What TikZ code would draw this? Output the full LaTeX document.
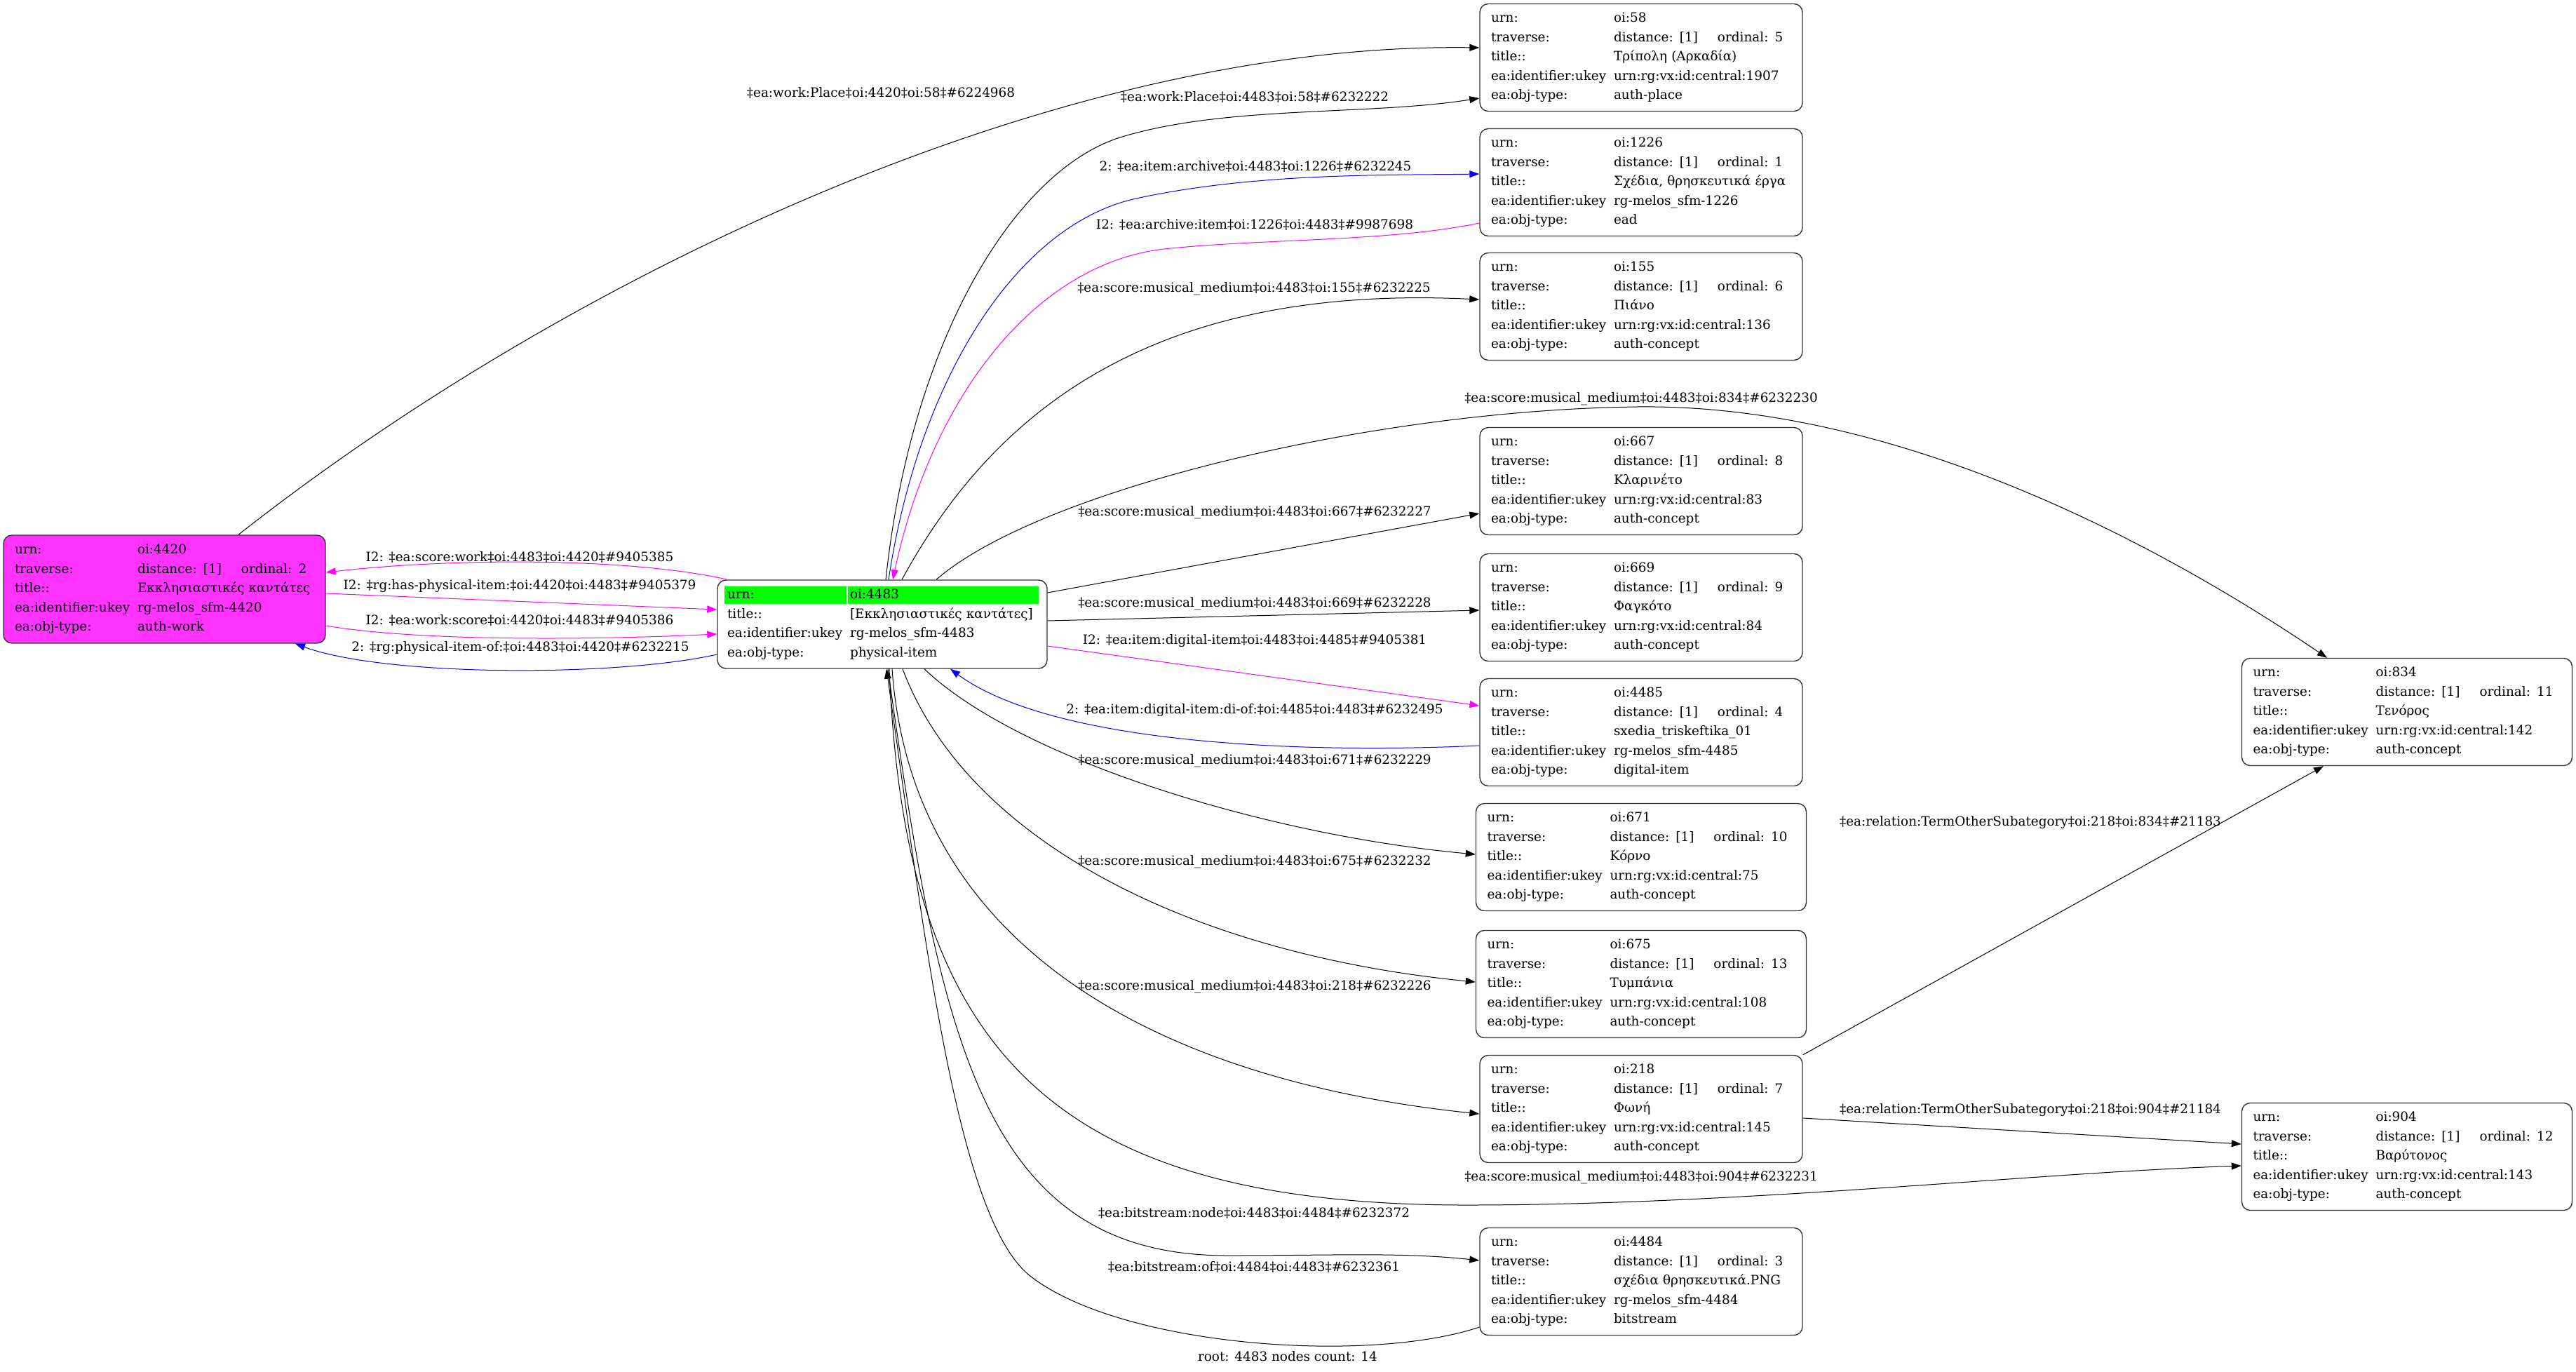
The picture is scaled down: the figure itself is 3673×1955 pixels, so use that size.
\documentclass[tikz,border=0pt]{standalone}
\usepackage{fontspec}
\setmainfont{DejaVu Serif}
\usetikzlibrary{arrows.meta}
\definecolor{mymagenta}{RGB}{255,51,255}
\definecolor{mygreen}{RGB}{0,255,0}
\definecolor{linkmagenta}{RGB}{255,0,255}
\definecolor{linkblue}{RGB}{0,0,255}
\newcommand{\boxfont}{\fontsize{9.2pt}{13.75pt}\selectfont}
\newcommand{\rw}[2]{\makebox[87.5pt][l]{#1}\mbox{#2}}
\newcommand{\trv}[1]{\rw{traverse:}{\makebox[74pt][l]{distance: [1]}ordinal: #1}}
\tikzset{
  rec/.style={draw=black!80, line width=0.7pt, rounded corners=6pt, inner xsep=8pt, inner ysep=0pt, text width=214pt, minimum height=76.5pt, align=left, font=\boxfont},
  recw/.style={rec, text width=219.5pt},
  lbl/.style={font=\boxfont, inner sep=0pt},
  conn/.style={line width=0.5pt, -{Triangle[length=7pt,width=5pt]}}
}

\begin{document}
\begin{tikzpicture}[x=0.5pt,y=-0.5pt]
\useasboundingbox (0,0) rectangle (3673,1955);

\fill[mygreen] (1033,836) rectangle (1207,861);
\fill[mygreen] (1209,836) rectangle (1481,861);

\node[rec, fill=mymagenta, text width=213.5pt, minimum height=77pt] (n4420) at (234.5,840) {\rw{urn:}{oi:4420}\\\trv{2}\\\rw{title::}{Εκκλησιαστικές καντάτες}\\\rw{ea:identifier:ukey}{rg-melos\_sfm-4420}\\\rw{ea:obj-type:}{auth-work}};
\node[rec, text width=221pt, inner xsep=7pt, minimum height=63pt] (n4483) at (1258,890) {\rw{urn:}{oi:4483}\\\rw{title::}{[Εκκλησιαστικές καντάτες]}\\\rw{ea:identifier:ukey}{rg-melos\_sfm-4483}\\\rw{ea:obj-type:}{physical-item}};
\node[rec] (n58) at (2340,82) {\rw{urn:}{oi:58}\\\trv{5}\\\rw{title::}{Τρίπολη (Αρκαδία)}\\\rw{ea:identifier:ukey}{urn:rg:vx:id:central:1907}\\\rw{ea:obj-type:}{auth-place}};
\node[rec] (n1226) at (2340,260) {\rw{urn:}{oi:1226}\\\trv{1}\\\rw{title::}{Σχέδια, θρησκευτικά έργα}\\\rw{ea:identifier:ukey}{rg-melos\_sfm-1226}\\\rw{ea:obj-type:}{ead}};
\node[rec] (n155) at (2340,437) {\rw{urn:}{oi:155}\\\trv{6}\\\rw{title::}{Πιάνο}\\\rw{ea:identifier:ukey}{urn:rg:vx:id:central:136}\\\rw{ea:obj-type:}{auth-concept}};
\node[rec] (n667) at (2340,686) {\rw{urn:}{oi:667}\\\trv{8}\\\rw{title::}{Κλαρινέτο}\\\rw{ea:identifier:ukey}{urn:rg:vx:id:central:83}\\\rw{ea:obj-type:}{auth-concept}};
\node[rec] (n669) at (2340,866) {\rw{urn:}{oi:669}\\\trv{9}\\\rw{title::}{Φαγκότο}\\\rw{ea:identifier:ukey}{urn:rg:vx:id:central:84}\\\rw{ea:obj-type:}{auth-concept}};
\node[rec] (n4485) at (2340,1044) {\rw{urn:}{oi:4485}\\\trv{4}\\\rw{title::}{sxedia\_triskeftika\_01}\\\rw{ea:identifier:ukey}{rg-melos\_sfm-4485}\\\rw{ea:obj-type:}{digital-item}};
\node[recw] (n671) at (2340,1222) {\rw{urn:}{oi:671}\\\trv{10}\\\rw{title::}{Κόρνο}\\\rw{ea:identifier:ukey}{urn:rg:vx:id:central:75}\\\rw{ea:obj-type:}{auth-concept}};
\node[recw] (n675) at (2340,1403) {\rw{urn:}{oi:675}\\\trv{13}\\\rw{title::}{Τυμπάνια}\\\rw{ea:identifier:ukey}{urn:rg:vx:id:central:108}\\\rw{ea:obj-type:}{auth-concept}};
\node[rec] (n218) at (2340,1581) {\rw{urn:}{oi:218}\\\trv{7}\\\rw{title::}{Φωνή}\\\rw{ea:identifier:ukey}{urn:rg:vx:id:central:145}\\\rw{ea:obj-type:}{auth-concept}};
\node[rec] (n4484) at (2340,1827) {\rw{urn:}{oi:4484}\\\trv{3}\\\rw{title::}{σχέδια θρησκευτικά.PNG}\\\rw{ea:identifier:ukey}{rg-melos\_sfm-4484}\\\rw{ea:obj-type:}{bitstream}};
\node[recw] (n834) at (3432,1015) {\rw{urn:}{oi:834}\\\trv{11}\\\rw{title::}{Τενόρος}\\\rw{ea:identifier:ukey}{urn:rg:vx:id:central:142}\\\rw{ea:obj-type:}{auth-concept}};
\node[recw] (n904) at (3432,1649) {\rw{urn:}{oi:904}\\\trv{12}\\\rw{title::}{Βαρύτονος}\\\rw{ea:identifier:ukey}{urn:rg:vx:id:central:143}\\\rw{ea:obj-type:}{auth-concept}};

\draw[conn] ([xshift=52.75pt]n4420.north) .. controls (800,400) and (1500,60) .. ([yshift=7pt]n58.west);
\draw[conn] ([xshift=2.5pt]n4483.north) .. controls (1300,480) and (1450,240) .. (1600,195) .. controls (1750,150) and (1950,165) .. ([yshift=-29pt]n58.west);
\draw[conn, linkblue] ([xshift=4.5pt]n4483.north) .. controls (1310,540) and (1450,320) .. (1620,283) .. controls (1790,246) and (1980,250) .. ([yshift=6pt]n1226.west);
\draw[conn, linkmagenta] ([yshift=-29pt]n1226.west) .. controls (1980,345) and (1800,340) .. (1660,355) .. controls (1480,375) and (1330,560) .. ([xshift=7.5pt]n4483.north);
\draw[conn] ([xshift=14pt]n4483.north) .. controls (1420,580) and (1650,405) .. ([yshift=5pt]n155.west);
\draw[conn] ([xshift=38.5pt]n4483.north) .. controls (1480,700) and (1950,585) .. (2334,580) .. controls (2718,575) and (3100,790) .. ([xshift=-57pt]n834.north);
\draw[conn] ([yshift=22.5pt]n4483.east) -- ([yshift=-23pt]n667.west);
\draw[conn] ([yshift=2.5pt]n4483.east) -- ([yshift=-2pt]n669.west);
\draw[conn, linkmagenta] ([yshift=-15.5pt]n4483.east) -- ([yshift=19pt]n4485.west);
\draw[conn, linkblue] ([yshift=-9.5pt]n4485.west) .. controls (1850,1075) and (1500,1060) .. ([xshift=48.5pt]n4483.south);
\draw[conn] ([xshift=30pt]n4483.south) .. controls (1450,1080) and (1800,1190) .. ([yshift=2pt]n671.west);
\draw[conn] ([xshift=14.5pt]n4483.south) .. controls (1380,1200) and (1700,1360) .. ([yshift=1.5pt]n675.west);
\draw[conn] ([xshift=7pt]n4483.south) .. controls (1300,1350) and (1650,1540) .. ([yshift=-3.5pt]n218.west);
\draw[conn] ([xshift=5pt]n4483.south) .. controls (1290,1500) and (1500,1720) .. (2100,1718) .. controls (2500,1717) and (2900,1672) .. ([yshift=-6.5pt]n904.west);
\draw[conn] ([xshift=4pt]n4483.south) .. controls (1340,1480) and (1400,1790) .. (1750,1790) .. controls (1900,1790) and (2000,1785) .. ([yshift=15pt]n4484.west);
\draw[conn] ([yshift=-32.5pt]n4484.west) .. controls (1950,1945) and (1600,1920) .. (1470,1820) .. controls (1366,1740) and (1320,1350) .. ([xshift=3pt]n4483.south);
\draw[conn] (n218.north east) -- ([xshift=-59.5pt]n834.south);
\draw[conn] ([yshift=-6.5pt]n218.east) -- ([yshift=9pt]n904.west);
\draw[conn, linkmagenta] ([yshift=-3pt]n4420.east) -- ([yshift=10.5pt]n4483.west);
\draw[conn, linkmagenta] ([yshift=-26pt]n4420.east) .. controls (600,915) and (850,912) .. ([yshift=-7pt]n4483.west);
\draw[conn, linkmagenta] ([xshift=7.5pt]n4483.north west) .. controls (900,795) and (650,795) .. ([yshift=12pt]n4420.east);
\draw[conn, linkblue] ([yshift=-21.5pt]n4483.west) .. controls (880,965) and (550,965) .. ([xshift=93.25pt]n4420.south);

\node[lbl] (l1) at (1256,132) {‡ea:work:Place‡oi:4420‡oi:58‡\#6224968};
\node[lbl] (l2) at (1789,138) {‡ea:work:Place‡oi:4483‡oi:58‡\#6232222};
\node[lbl] (l3) at (1790,237) {2: ‡ea:item:archive‡oi:4483‡oi:1226‡\#6232245};
\node[lbl] (l4) at (1789,320) {I2: ‡ea:archive:item‡oi:1226‡oi:4483‡\#9987698};
\node[lbl] (l5) at (1788,412) {‡ea:score:musical\_medium‡oi:4483‡oi:155‡\#6232225};
\node[lbl] (l6) at (2340,569) {‡ea:score:musical\_medium‡oi:4483‡oi:834‡\#6232230};
\node[lbl] (l7) at (1789,731) {‡ea:score:musical\_medium‡oi:4483‡oi:667‡\#6232227};
\node[lbl] (l8) at (1789,861) {‡ea:score:musical\_medium‡oi:4483‡oi:669‡\#6232228};
\node[lbl] (l9) at (1789,914) {I2: ‡ea:item:digital-item‡oi:4483‡oi:4485‡\#9405381};
\node[lbl] (l10) at (1789,1013) {2: ‡ea:item:digital-item:di-of:‡oi:4485‡oi:4483‡\#6232495};
\node[lbl] (l11) at (1789,1085) {‡ea:score:musical\_medium‡oi:4483‡oi:671‡\#6232229};
\node[lbl] (l12) at (1789,1229) {‡ea:score:musical\_medium‡oi:4483‡oi:675‡\#6232232};
\node[lbl] (l13) at (1789,1407) {‡ea:score:musical\_medium‡oi:4483‡oi:218‡\#6232226};
\node[lbl] (l14) at (2340,1679) {‡ea:score:musical\_medium‡oi:4483‡oi:904‡\#6232231};
\node[lbl] (l15) at (1788,1729) {‡ea:bitstream:node‡oi:4483‡oi:4484‡\#6232372};
\node[lbl] (l16) at (1788,1806) {‡ea:bitstream:of‡oi:4484‡oi:4483‡\#6232361};
\node[lbl] (l17) at (2895,1173) {‡ea:relation:TermOtherSubategory‡oi:218‡oi:834‡\#21183};
\node[lbl] (l18) at (2895,1583) {‡ea:relation:TermOtherSubategory‡oi:218‡oi:904‡\#21184};
\node[lbl] (l19) at (741,836) {I2: ‡rg:has-physical-item:‡oi:4420‡oi:4483‡\#9405379};
\node[lbl] (l20) at (741,884) {I2: ‡ea:work:score‡oi:4420‡oi:4483‡\#9405386};
\node[lbl] (l21) at (741,794) {I2: ‡ea:score:work‡oi:4483‡oi:4420‡\#9405385};
\node[lbl] (l22) at (742,924) {2: ‡rg:physical-item-of:‡oi:4483‡oi:4420‡\#6232215};
\node[lbl] (cap) at (1836,1934) {root: 4483 nodes count: 14};
\end{tikzpicture}
\end{document}
